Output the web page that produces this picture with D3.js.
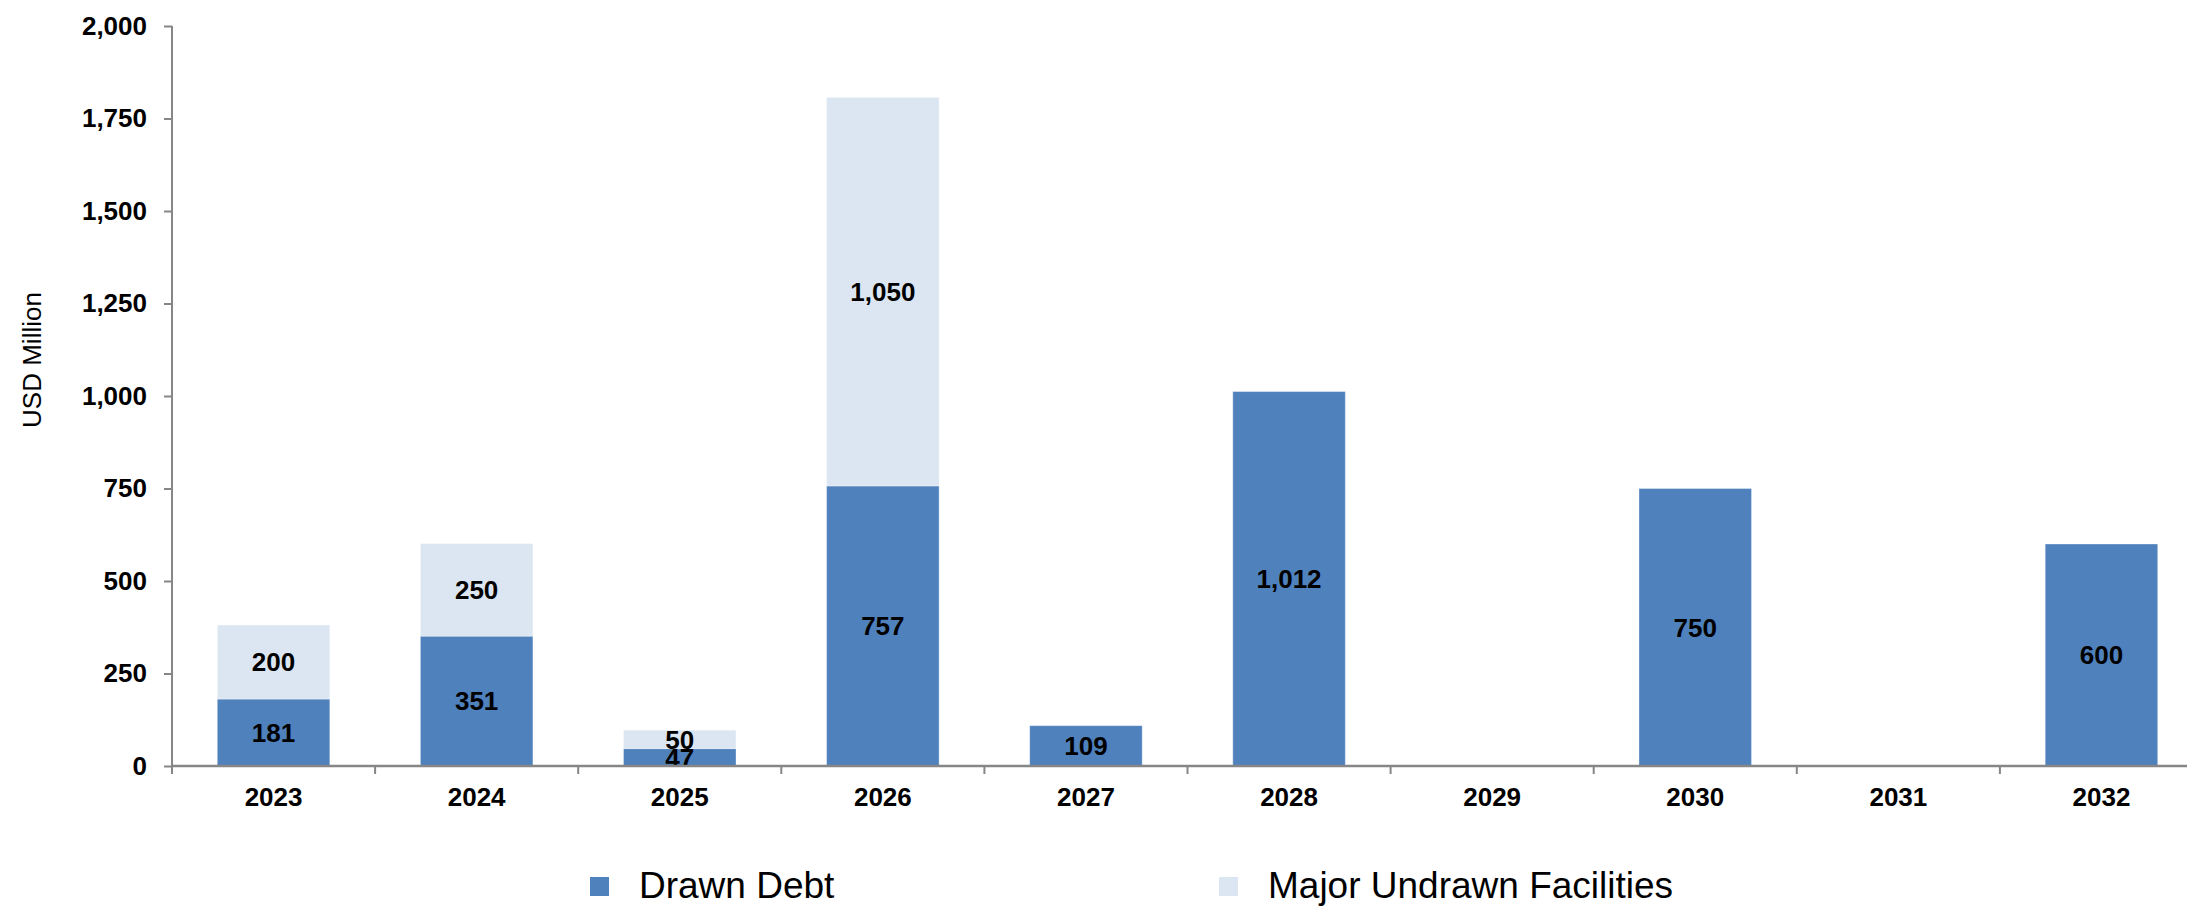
<!DOCTYPE html>
<html>
<head>
<meta charset="utf-8">
<script src="https://cdn.jsdelivr.net/npm/d3@7"></script>
<style>
  html, body { margin: 0; padding: 0; background: #fff; }
  svg { display: block; font-family: Arial, "Liberation Sans", sans-serif; }
</style>
</head>
<body>
<svg id="chart" width="2187" height="909"></svg>
<script>
const years = ["2023","2024","2025","2026","2027","2028","2029","2030","2031","2032"];
const drawnDebt = [181, 351, 47, 757, 109, 1012, 0, 750, 0, 600];
const undrawnFacilities = [200, 250, 50, 1050, 0, 0, 0, 0, 0, 0];
const yTicks = [0, 250, 500, 750, 1000, 1250, 1500, 1750, 2000];
const seriesNames = ["Drawn Debt", "Major Undrawn Facilities"];
const seriesColors = ["#4F81BD", "#DCE6F2"];

(function () {
const svg = d3.select("#chart");
const axisColor = "#868686";
const plotLeft = 172, plotRight = 2203, plotTop = 26, plotBottom = 766;

const x = d3.scaleBand().domain(years).range([plotLeft, plotRight]).padding(0);
const y = d3.scaleLinear().domain([0, 2000]).range([plotBottom, plotTop]);
const barW = x.bandwidth() * 0.554;
const fmt = d3.format(",");

const rows = years.map((yr, i) => ({ year: yr, drawn: drawnDebt[i], undrawn: undrawnFacilities[i] }));
const stack = d3.stack().keys(["drawn", "undrawn"])(rows);

// bars
stack.forEach((layer, li) => {
  const g = svg.append("g");
  g.selectAll("rect").data(layer.filter(d => d[1] - d[0] > 0)).enter().append("rect")
    .attr("x", d => x(d.data.year) + (x.bandwidth() - barW) / 2)
    .attr("width", barW)
    .attr("y", d => y(d[1]))
    .attr("height", d => y(d[0]) - y(d[1]))
    .attr("fill", seriesColors[li])
    .attr("stroke", "rgba(255,255,255,0.35)")
    .attr("stroke-width", 1);
});

// data labels
stack.forEach((layer, li) => {
  svg.append("g").selectAll("text").data(layer.filter(d => d[1] - d[0] > 0)).enter().append("text")
    .attr("x", d => x(d.data.year) + x.bandwidth() / 2)
    .attr("y", d => y((d[0] + d[1]) / 2))
    .attr("dy", "0.36em")
    .attr("text-anchor", "middle")
    .attr("font-size", 26)
    .attr("font-weight", "bold")
    .attr("fill", "#000")
    .text(d => fmt(d[1] - d[0]));
});

// y axis
const yAxis = d3.axisLeft(y).tickValues(yTicks).tickFormat(fmt).tickSize(8).tickPadding(17);
const yg = svg.append("g").attr("transform", `translate(${plotLeft},0)`).call(yAxis);
yg.select(".domain").attr("stroke", axisColor).attr("stroke-width", 2).attr("d", `M0,${plotTop}V${plotBottom}`);
yg.selectAll(".tick line").attr("stroke", axisColor).attr("stroke-width", 2);
yg.selectAll(".tick text").attr("font-size", 26).attr("font-weight", "bold").attr("fill", "#000")
  .attr("font-family", "Arial, 'Liberation Sans', sans-serif");

// x axis
const xg = svg.append("g");
xg.append("line").attr("x1", plotLeft).attr("x2", 2187).attr("y1", y(0)).attr("y2", y(0))
  .attr("stroke", axisColor).attr("stroke-width", 2.5);
const boundaries = years.map(d => x(d)).concat([x(years[years.length - 1]) + x.bandwidth()]);
xg.selectAll("line.tk").data(boundaries).enter().append("line")
  .attr("class", "tk")
  .attr("x1", d => d).attr("x2", d => d)
  .attr("y1", y(0)).attr("y2", y(0) + 8)
  .attr("stroke", axisColor).attr("stroke-width", 2);
xg.selectAll("text").data(years).enter().append("text")
  .attr("x", d => x(d) + x.bandwidth() / 2)
  .attr("y", 806)
  .attr("text-anchor", "middle")
  .attr("font-size", 26)
  .attr("font-weight", "bold")
  .attr("fill", "#000")
  .text(d => d);

// y title
svg.append("text")
  .attr("transform", "translate(41,360) rotate(-90)")
  .attr("text-anchor", "middle")
  .attr("font-size", 26)
  .attr("fill", "#000")
  .text("USD Million");

// legend
const legendX = [590, 1219];
const lg = svg.append("g").selectAll("g").data(seriesNames).enter().append("g")
  .attr("transform", (d, i) => `translate(${legendX[i]},0)`);
lg.append("rect").attr("x", 0).attr("y", 877).attr("width", 19).attr("height", 19)
  .attr("fill", (d, i) => seriesColors[i]);
lg.append("text").attr("x", 49).attr("y", 898).attr("font-size", 37).attr("fill", "#000").text(d => d);
})();
</script>
</body>
</html>
